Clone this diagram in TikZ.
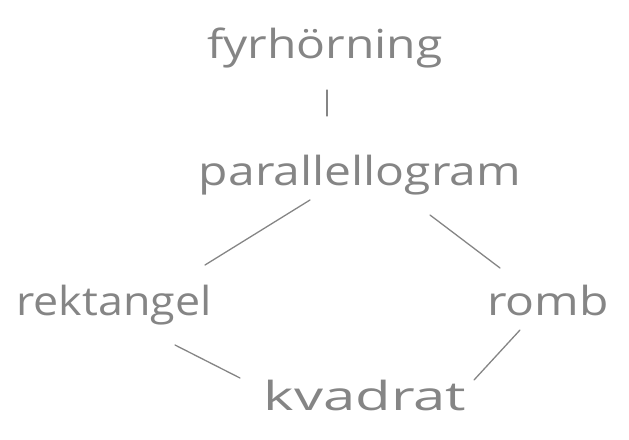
\documentclass[tikz,border=0pt]{standalone}
\usepackage{fontspec}
\setmainfont{Open Sans}
\definecolor{pencil}{HTML}{858585}
\begin{document}
\begin{tikzpicture}[x=1pt,y=-1pt,
  word/.style={text=pencil,inner sep=1pt,anchor=base,font=\fontsize{40}{44}\selectfont\addfontfeatures{FakeStretch=1.2}},
  stroke/.style={draw=pencil,line width=1.3pt,line cap=round}]
\useasboundingbox (0,0) rectangle (629,439);
\node[word] (f) at (325,58) {fyrhörning};
\node[word] (p) at (360,185) {parallellogram};
\node[word,font=\fontsize{40}{44}\selectfont\addfontfeatures{FakeStretch=1.12}] (r) at (114,315) {rektangel};
\node[word] (o) at (548,315) {romb};
\node[word,font=\fontsize{40}{44}\selectfont\addfontfeatures{FakeStretch=1.45}] (k) at (365,410) {kvadrat};
\coordinate (fp1) at (327,90);  \coordinate (fp2) at (327,116);
\coordinate (pr1) at (310,200); \coordinate (pr2) at (205,265);
\coordinate (po1) at (430,215); \coordinate (po2) at (500,268);
\coordinate (rk1) at (175,345); \coordinate (rk2) at (240,378);
\coordinate (ok1) at (520,330); \coordinate (ok2) at (474,380);
\draw[stroke] (fp1) -- (fp2);
\draw[stroke] (pr1) -- (pr2);
\draw[stroke] (po1) -- (po2);
\draw[stroke] (rk1) -- (rk2);
\draw[stroke] (ok1) -- (ok2);
\end{tikzpicture}
\end{document}
